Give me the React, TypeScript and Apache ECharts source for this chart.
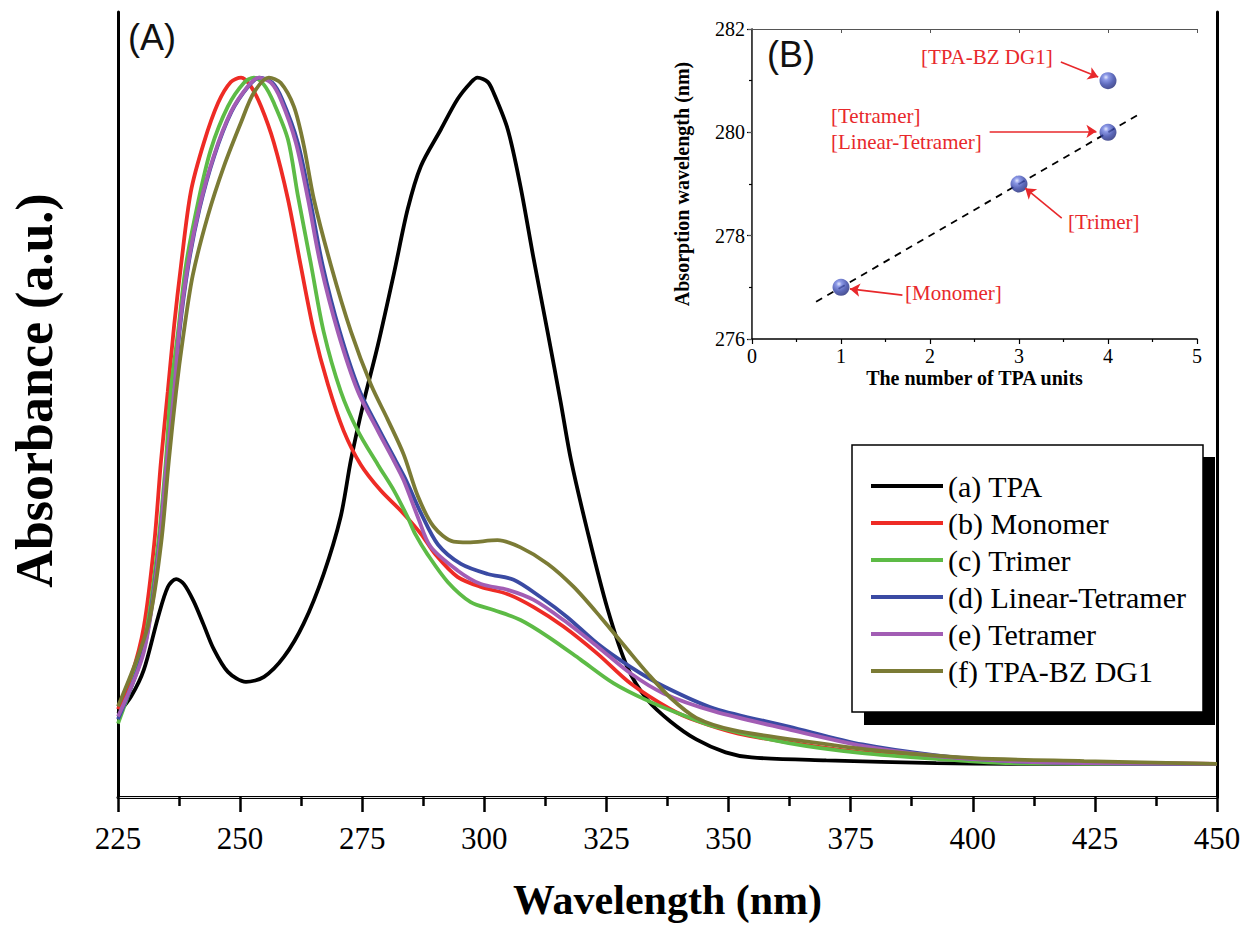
import React, { useEffect, useRef } from "react";
import * as echarts from "echarts";

// ---------- Panel (A): UV-vis absorbance spectra (normalised) ----------
const tpa = [
  [225, 0.116], [227.7, 0.14], [230.3, 0.177], [233.2, 0.25], [235.2, 0.292], [236.9, 0.303],
  [238.5, 0.296], [240.5, 0.272], [242.5, 0.24], [244.5, 0.207], [247.5, 0.174], [251.2, 0.16],
  [254.9, 0.167], [259.0, 0.195], [263.0, 0.241], [267.1, 0.31], [270.6, 0.39], [272.7, 0.469],
  [275.3, 0.549], [278.2, 0.628], [281.5, 0.728], [284.3, 0.817], [287.0, 0.877], [291.1, 0.928],
  [294.5, 0.97], [297.2, 0.993], [298.6, 1.0], [300.7, 0.994], [301.9, 0.979], [304.8, 0.928],
  [307.4, 0.849], [310.1, 0.748], [313.0, 0.645], [315.6, 0.55], [317.7, 0.47], [321.1, 0.37],
  [325.2, 0.262], [329.3, 0.18], [333.4, 0.135], [338.1, 0.105], [343.4, 0.08], [349.4, 0.062],
  [354.7, 0.055], [370, 0.051], [392.5, 0.047], [407.7, 0.046], [450, 0.046],
];
const monomer = [
  [225, 0.122], [227.7, 0.167], [230.3, 0.237], [232.4, 0.351], [233.8, 0.467], [235.2, 0.564],
  [236.5, 0.656], [237.9, 0.739], [239.9, 0.841], [242.6, 0.91], [245.5, 0.965], [248.1, 0.994],
  [250.2, 1.0], [252.2, 0.988], [254.3, 0.96], [256.9, 0.91], [259.8, 0.831], [262.4, 0.739],
  [265.1, 0.647], [268.0, 0.573], [271.2, 0.509], [274.7, 0.462], [278.8, 0.426], [282.9, 0.398],
  [287.0, 0.366], [290.0, 0.337], [294.5, 0.306], [299.3, 0.292], [304.8, 0.282], [310.1, 0.264],
  [316.2, 0.237], [323.2, 0.199], [329.9, 0.158], [338.1, 0.122], [343.4, 0.106], [352, 0.088],
  [362.3, 0.076], [377.4, 0.062], [400, 0.052], [423, 0.048], [450, 0.046],
];
const trimer = [
  [225, 0.102], [230.3, 0.213], [233.2, 0.351], [234.8, 0.467], [235.8, 0.564], [237.3, 0.647],
  [238.9, 0.739], [241.4, 0.827], [244.0, 0.9], [247.5, 0.96], [250.8, 0.993], [252.8, 1.0],
  [254.9, 0.99], [256.9, 0.965], [259.8, 0.914], [261.8, 0.837], [264.5, 0.741], [267.1, 0.647],
  [270.6, 0.564], [274.1, 0.509], [278.2, 0.462], [281.5, 0.426], [284.3, 0.389], [285.9, 0.365],
  [288.4, 0.337], [292.5, 0.299], [297.2, 0.271], [301.9, 0.26], [307.4, 0.246], [313.0, 0.223],
  [319.7, 0.191], [326.5, 0.158], [333.4, 0.134], [340.2, 0.115], [347.1, 0.098], [362.3, 0.075],
  [377.4, 0.061], [392.5, 0.053], [407.7, 0.047], [450, 0.046],
];
const linearTetramer = [
  [225, 0.108], [230.3, 0.205], [233.2, 0.335], [235.1, 0.467], [236.6, 0.564], [237.6, 0.647],
  [239.4, 0.739], [241.7, 0.818], [244.7, 0.891], [248.2, 0.952], [251.7, 0.988], [254.0, 1.0],
  [256.6, 0.993], [258.6, 0.97], [261.8, 0.91], [264.3, 0.831], [266.9, 0.739], [270.4, 0.647],
  [274.5, 0.564], [278.6, 0.509], [281.9, 0.467], [284.0, 0.44], [287.0, 0.395], [290.5, 0.351],
  [295.2, 0.324], [300.7, 0.31], [306.0, 0.302], [311.5, 0.278], [317.0, 0.25], [323.2, 0.213],
  [329.9, 0.181], [336.7, 0.154], [347.1, 0.123], [362.3, 0.098], [377.4, 0.073], [392.5, 0.058],
  [407.7, 0.05], [422.8, 0.047], [450, 0.046],
];
const tetramer = [
  [225, 0.112], [230.3, 0.202], [233.2, 0.333], [235.0, 0.467], [236.5, 0.564], [237.5, 0.647],
  [239.3, 0.739], [241.6, 0.818], [244.6, 0.891], [248.1, 0.952], [251.6, 0.988], [253.8, 1.0],
  [256.3, 0.993], [258.3, 0.97], [261.4, 0.91], [263.9, 0.831], [266.5, 0.739], [270.0, 0.647],
  [274.1, 0.564], [278.2, 0.509], [281.5, 0.467], [283.5, 0.44], [286.4, 0.389], [289.0, 0.348],
  [294.5, 0.315], [299.3, 0.296], [304.8, 0.288], [310.1, 0.274], [316.2, 0.246], [323.2, 0.209],
  [329.9, 0.172], [336.7, 0.144], [347.1, 0.119], [362.3, 0.094], [377.4, 0.071], [392.5, 0.057],
  [407.7, 0.05], [422.8, 0.047], [450, 0.046],
];
const tpaBzDg1 = [
  [225, 0.126], [231.1, 0.237], [233.8, 0.351], [235.4, 0.467], [236.9, 0.564], [238.3, 0.638],
  [240.3, 0.725], [243.4, 0.808], [246.7, 0.877], [250.2, 0.938], [252.8, 0.979], [255.9, 1.0],
  [258.3, 0.993], [261.0, 0.96], [263.0, 0.907], [265.1, 0.831], [268.6, 0.739], [272.7, 0.647],
  [276.8, 0.573], [280.2, 0.525], [283.5, 0.476], [286.4, 0.418], [289.6, 0.376], [293.7, 0.355],
  [296.6, 0.354], [302.7, 0.357], [307.4, 0.347], [313.0, 0.324], [318.3, 0.292], [323.8, 0.25],
  [329.3, 0.205], [333.4, 0.172], [338.1, 0.138], [343.4, 0.11], [351.0, 0.093], [366.1, 0.077],
  [381.3, 0.064], [400.1, 0.054], [422.8, 0.05], [450, 0.046],
];

const seriesNames = [
  "(a) TPA",
  "(b) Monomer",
  "(c) Trimer",
  "(d) Linear-Tetramer",
  "(e) Tetramer",
  "(f) TPA-BZ DG1",
];
const seriesData = [tpa, monomer, trimer, linearTetramer, tetramer, tpaBzDg1];
const seriesColors = ["#000000", "#ee2b25", "#5dbb46", "#3a4aa3", "#a25db4", "#7b7b35"];

// ---------- Panel (B): absorption maximum vs number of TPA units ----------
const tpaUnits = [1, 3, 4, 4];
const absMax = [277, 279, 280, 281];
const fitLine = [
  [0.72, 276.72],
  [4.35, 280.35],
];
const annotationTexts = ["[TPA-BZ DG1]", "[Tetramer]", "[Linear-Tetramer]", "[Trimer]", "[Monomer]"];
const annotationArrows = [
  [[3.47, 281.36], [3.89, 281.07]],
  [[2.67, 280.02], [3.87, 280.02]],
  [[3.48, 278.34], [3.07, 278.92]],
  [[1.69, 276.85], [1.1, 276.97]],
];

const SERIF = "Liberation Serif";
const SANS = "Liberation Sans";
const RED = "#e8282b";

export default function App() {
  const ref = useRef<HTMLDivElement>(null);
  useEffect(() => {
    const chart = echarts.init(ref.current!, null, { renderer: "svg" });

    const lineSeries = seriesData.map((d, i) => ({
      name: seriesNames[i],
      type: "line",
      xAxisIndex: 0,
      yAxisIndex: 0,
      data: d,
      symbol: "none",
      showSymbol: false,
      smooth: 0.3,
      lineStyle: { color: seriesColors[i], width: 3.8 },
      itemStyle: { color: seriesColors[i] },
      z: 3,
    }));

    const redText = (text: string, left: number, top: number) => ({
      type: "text",
      left,
      top,
      z: 10,
      style: { text, fontSize: 21, fontFamily: SERIF, fill: RED },
    });

    const option: any = {
      animation: false,
      backgroundColor: "#ffffff",
      grid: [
        { left: 117, top: 12, width: 1100, height: 789 },
        { left: 752, top: 29, width: 445, height: 310 },
      ],
      xAxis: [
        {
          gridIndex: 0,
          type: "value",
          min: 225,
          max: 450,
          interval: 25,
          position: "bottom",
          axisLine: { lineStyle: { color: "#000", width: 3 } },
          axisTick: { length: 15, lineStyle: { color: "#000", width: 2.5 } },
          minorTick: { show: true, splitNumber: 2, length: 9, lineStyle: { color: "#000", width: 2.5 } },
          splitLine: { show: false },
          axisLabel: { color: "#000", fontSize: 31, fontFamily: SERIF, margin: 26 },
          name: "Wavelength (nm)",
          nameLocation: "middle",
          nameGap: 82,
          nameTextStyle: { color: "#000", fontSize: 42, fontWeight: "bold", fontFamily: SERIF },
        },
        {
          gridIndex: 0,
          type: "value",
          min: 225,
          max: 450,
          position: "top",
          axisLine: { lineStyle: { color: "#e6e6e6", width: 1 } },
          axisTick: { show: false },
          axisLabel: { show: false },
          splitLine: { show: false },
        },
        {
          gridIndex: 1,
          type: "value",
          min: 0,
          max: 5,
          interval: 1,
          position: "bottom",
          axisLine: { onZero: false, lineStyle: { color: "#000", width: 1.5 } },
          axisTick: { length: 5, lineStyle: { color: "#000", width: 1.2 } },
          minorTick: { show: true, splitNumber: 2, length: 3, lineStyle: { color: "#000", width: 1.2 } },
          splitLine: { show: false },
          axisLabel: { color: "#000", fontSize: 20, fontFamily: SERIF, margin: 7 },
          name: "The number of TPA units",
          nameLocation: "middle",
          nameGap: 29,
          nameTextStyle: { color: "#000", fontSize: 20, fontWeight: "bold", fontFamily: SERIF },
        },
        {
          gridIndex: 1,
          type: "value",
          min: 0,
          max: 5,
          interval: 1,
          position: "top",
          axisLine: { lineStyle: { color: "#555", width: 1 } },
          axisTick: { inside: true, length: 4, lineStyle: { color: "#555", width: 1 } },
          axisLabel: { show: false },
          splitLine: { show: false },
        },
      ],
      yAxis: [
        {
          gridIndex: 0,
          type: "value",
          min: 0,
          max: 1.0913,
          axisLine: { show: true, lineStyle: { color: "#000", width: 3 } },
          axisTick: { show: false },
          axisLabel: { show: false },
          splitLine: { show: false },
          name: "Absorbance (a.u.)",
          nameLocation: "middle",
          nameGap: 58,
          nameTextStyle: {
            color: "#000",
            fontSize: 52,
            fontWeight: "bold",
            fontFamily: SERIF,
            padding: [0, 0, 0, 28],
          },
        },
        {
          gridIndex: 0,
          type: "value",
          min: 0,
          max: 1.0913,
          position: "right",
          axisLine: { show: true, lineStyle: { color: "#000", width: 3 } },
          axisTick: { show: false },
          axisLabel: { show: false },
          splitLine: { show: false },
        },
        {
          gridIndex: 1,
          type: "value",
          min: 276,
          max: 282,
          interval: 2,
          axisLine: { show: true, onZero: false, lineStyle: { color: "#000", width: 1.5 } },
          axisTick: { length: 5, lineStyle: { color: "#000", width: 1.2 } },
          minorTick: { show: true, splitNumber: 2, length: 3, lineStyle: { color: "#000", width: 1.2 } },
          splitLine: { show: false },
          axisLabel: { color: "#000", fontSize: 20, fontFamily: SERIF, margin: 7 },
          name: "Absorption wavelength (nm)",
          nameLocation: "middle",
          nameGap: 60,
          nameTextStyle: { color: "#000", fontSize: 20, fontWeight: "bold", fontFamily: SERIF },
        },
        {
          gridIndex: 1,
          type: "value",
          min: 276,
          max: 282,
          interval: 2,
          position: "right",
          axisLine: { show: true, lineStyle: { color: "#555", width: 1 } },
          axisTick: { inside: true, length: 4, lineStyle: { color: "#555", width: 1 } },
          axisLabel: { show: false },
          splitLine: { show: false },
        },
      ],
      legend: {
        orient: "vertical",
        left: 866,
        top: 466,
        icon: "rect",
        itemWidth: 72,
        itemHeight: 4,
        itemGap: 7,
        data: seriesNames,
        textStyle: { color: "#000", fontSize: 30, fontFamily: SERIF },
        z: 10,
      },
      graphic: [
        { type: "rect", z: 5, shape: { x: 864, y: 457, width: 351, height: 268 }, style: { fill: "#000" } },
        {
          type: "rect",
          z: 6,
          shape: { x: 852, y: 445, width: 351, height: 267 },
          style: { fill: "#fff", stroke: "#000", lineWidth: 1.5 },
        },
        { type: "text", left: 128, top: 19, z: 10, style: { text: "(A)", fontSize: 36, fontFamily: SANS, fill: "#111" } },
        { type: "text", left: 767, top: 36, z: 10, style: { text: "(B)", fontSize: 36, fontFamily: SANS, fill: "#111" } },
        redText(annotationTexts[0], 921, 46),
        redText(annotationTexts[1], 831, 105),
        redText(annotationTexts[2], 831, 131),
        redText(annotationTexts[3], 1068, 211),
        redText(annotationTexts[4], 905, 282),
      ],
      series: [
        ...lineSeries,
        {
          type: "line",
          xAxisIndex: 2,
          yAxisIndex: 2,
          data: fitLine,
          symbol: "none",
          lineStyle: { color: "#000", width: 1.8, type: [7, 6] },
          z: 3,
        },
        {
          type: "scatter",
          xAxisIndex: 2,
          yAxisIndex: 2,
          data: tpaUnits.map((u, i) => [u, absMax[i]]),
          symbol: "circle",
          symbolSize: 17,
          itemStyle: {
            color: {
              type: "radial",
              x: 0.38,
              y: 0.3,
              r: 0.75,
              colorStops: [
                { offset: 0, color: "#dfe4ff" },
                { offset: 0.22, color: "#6f7fe0" },
                { offset: 0.6, color: "#3443a8" },
                { offset: 1, color: "#1a2270" },
              ],
            },
          },
          z: 4,
          markLine: {
            silent: true,
            symbol: ["none", "arrow"],
            symbolSize: 10,
            label: { show: false },
            lineStyle: { color: RED, width: 1.6, type: "solid" },
            data: annotationArrows.map(([a, b]) => [{ coord: a }, { coord: b }]),
          },
        },
      ],
    };

    chart.setOption(option);
    return () => chart.dispose();
  }, []);

  return <div ref={ref} style={{ position: "fixed", left: 0, top: 0, width: 1245, height: 926 }} />;
}
